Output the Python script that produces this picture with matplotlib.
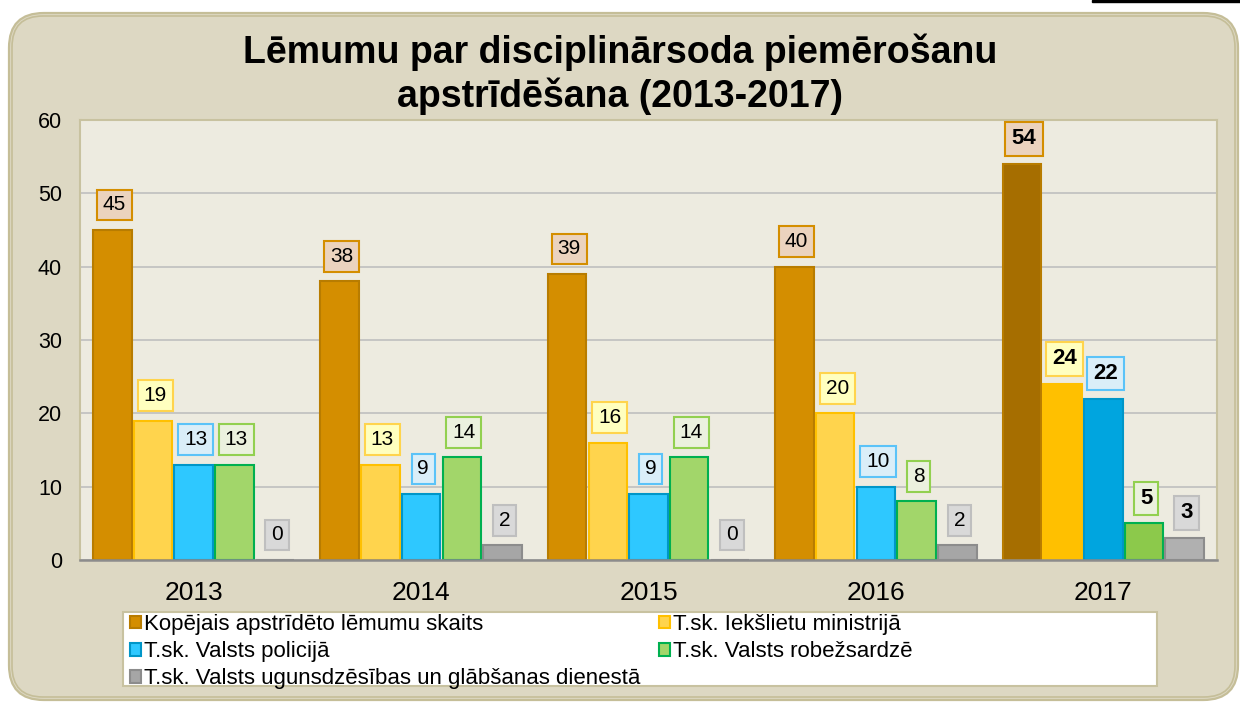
import numpy as np
import matplotlib
matplotlib.use('Agg')
import matplotlib.pyplot as plt
from matplotlib.patches import FancyBboxPatch, Rectangle, Patch

plt.rcParams['font.family'] = ['Liberation Sans', 'DejaVu Sans']

# --- dati ---
years = ['2013', '2014', '2015', '2016', '2017']
series_names = [
    'Kopējais apstrīdēto lēmumu skaits',
    'T.sk. Iekšlietu ministrijā',
    'T.sk. Valsts policijā',
    'T.sk. Valsts robežsardzē',
    'T.sk. Valsts ugunsdzēsības un glābšanas dienestā',
]
kopejais = [45, 38, 39, 40, 54]
ieksl = [19, 13, 16, 20, 24]
policija = [13, 9, 9, 10, 22]
robezsardze = [13, 14, 14, 8, 5]
ugunsdz = [0, 2, 0, 2, 3]
values = [kopejais, ieksl, policija, robezsardze, ugunsdz]

# krāsas: pildījums, mala, pildījums 2017, etiķetes fons, etiķetes mala
fill = ['#D48E00', '#FFD44D', '#2EC8FF', '#A2D66A', '#A6A6A6']
edge = ['#B87C00', '#FFC000', '#0096C8', '#00B050', '#8C8C8C']
fill17 = ['#A66E00', '#FFC000', '#00A5DF', '#8CC94B', '#B0B0B0']
lab_bg = ['#EBD3BE', '#FFFFBF', '#DAEEF8', '#EBF1DE', '#D9D9D9']
lab_edge = ['#D48E00', '#FFD44D', '#5BC3F8', '#92D050', '#BFBFBF']

W, H = 1240, 704
fig = plt.figure(figsize=(W / 100, H / 100), dpi=100)
fig.patch.set_facecolor('white')


def fx(px):
    return px / W


def fy(py):
    return 1 - py / H


# noapaļotais fons
outer = FancyBboxPatch((fx(9), fy(700)), fx(1229), (700 - 13) / H,
                       boxstyle='round,pad=0,rounding_size=0.028',
                       transform=fig.transFigure, facecolor='#DDD8C3',
                       edgecolor='#C5BE98', lw=1.6, mutation_aspect=W / H, zorder=-10)
fig.patches.append(outer)
inner = FancyBboxPatch((fx(12), fy(697)), fx(1223), (697 - 16) / H,
                       boxstyle='round,pad=0,rounding_size=0.025',
                       transform=fig.transFigure, facecolor='none',
                       edgecolor='#C5BE98', lw=1.2, mutation_aspect=W / H, zorder=-9)
fig.patches.append(inner)
fig.patches.append(Rectangle((fx(1092), fy(2)), fx(148), 2 / H,
                             transform=fig.transFigure, color='black', zorder=-8))

ax = fig.add_axes([fx(80), fy(560), fx(1137), 440 / H])
ax.set_zorder(1)
ax.set_facecolor('#EDEBE0')

x = np.arange(len(years))
stride = 0.179
bw = 0.169
for j, vals in enumerate(values):
    pos = x + (j - 2) * stride
    fc = [fill17[j] if y == '2017' else fill[j] for y in years]
    ax.bar(pos, vals, width=bw, color=fc, edgecolor=edge[j], linewidth=1.5, zorder=3)
    for k, v in enumerate(vals):
        bold = years[k] == '2017'
        ax.annotate(str(v), (pos[k], v), xytext=(1.5, 18), textcoords='offset points',
                    ha='center', va='center',
                    fontsize=16 if bold else 15,
                    fontweight='bold' if bold else 'normal', color='black',
                    bbox=dict(boxstyle='square,pad=0.28', fc=lab_bg[j],
                              ec=lab_edge[j], lw=1.5), zorder=4)

ax.set_xlim(-0.5, len(years) - 0.5)
ax.set_ylim(0, 60)
ax.set_yticks(range(0, 61, 10))
ax.set_xticks(x)
ax.set_xticklabels(years)
ax.tick_params(axis='y', length=0, pad=13, labelsize=15.5)
ax.tick_params(axis='x', length=0, pad=15, labelsize=19)
ax.grid(axis='y', color='#BFBFBF', lw=1.2, zorder=0)
for s in ['top', 'right', 'left']:
    ax.spines[s].set_color('#C8C2A0')
    ax.spines[s].set_linewidth(1.5)
ax.spines['bottom'].set_color('#8C8C8C')
ax.spines['bottom'].set_linewidth(1.8)
ax.spines['bottom'].set_zorder(5)

fig.text(0.5, fy(74), 'Lēmumu par disciplinārsoda piemērošanu\napstrīdēšana (2013-2017)',
         ha='center', va='center', fontsize=27, fontweight='bold', linespacing=1.22)

# leģenda
fig.patches.append(Rectangle((fx(123), fy(686)), fx(1034), 74 / H,
                             transform=fig.transFigure, facecolor='white',
                             edgecolor='#C8C2A0', lw=1.5, zorder=-5))
handles = [Patch(facecolor=fill[j], edgecolor=edge[j], lw=1.5) for j in range(5)]
order = [0, 2, 4, 1, 3]
fig.legend([handles[i] for i in order], [series_names[i] for i in order],
           loc='upper left', bbox_to_anchor=(fx(130), fy(614)), ncol=2,
           frameon=False, fontsize=16, handlelength=0.5, handleheight=0.5,
           handletextpad=0.15, columnspacing=0.8, labelspacing=0.28,
           borderpad=0.0, borderaxespad=0)

fig.savefig('out.png', dpi=100)
